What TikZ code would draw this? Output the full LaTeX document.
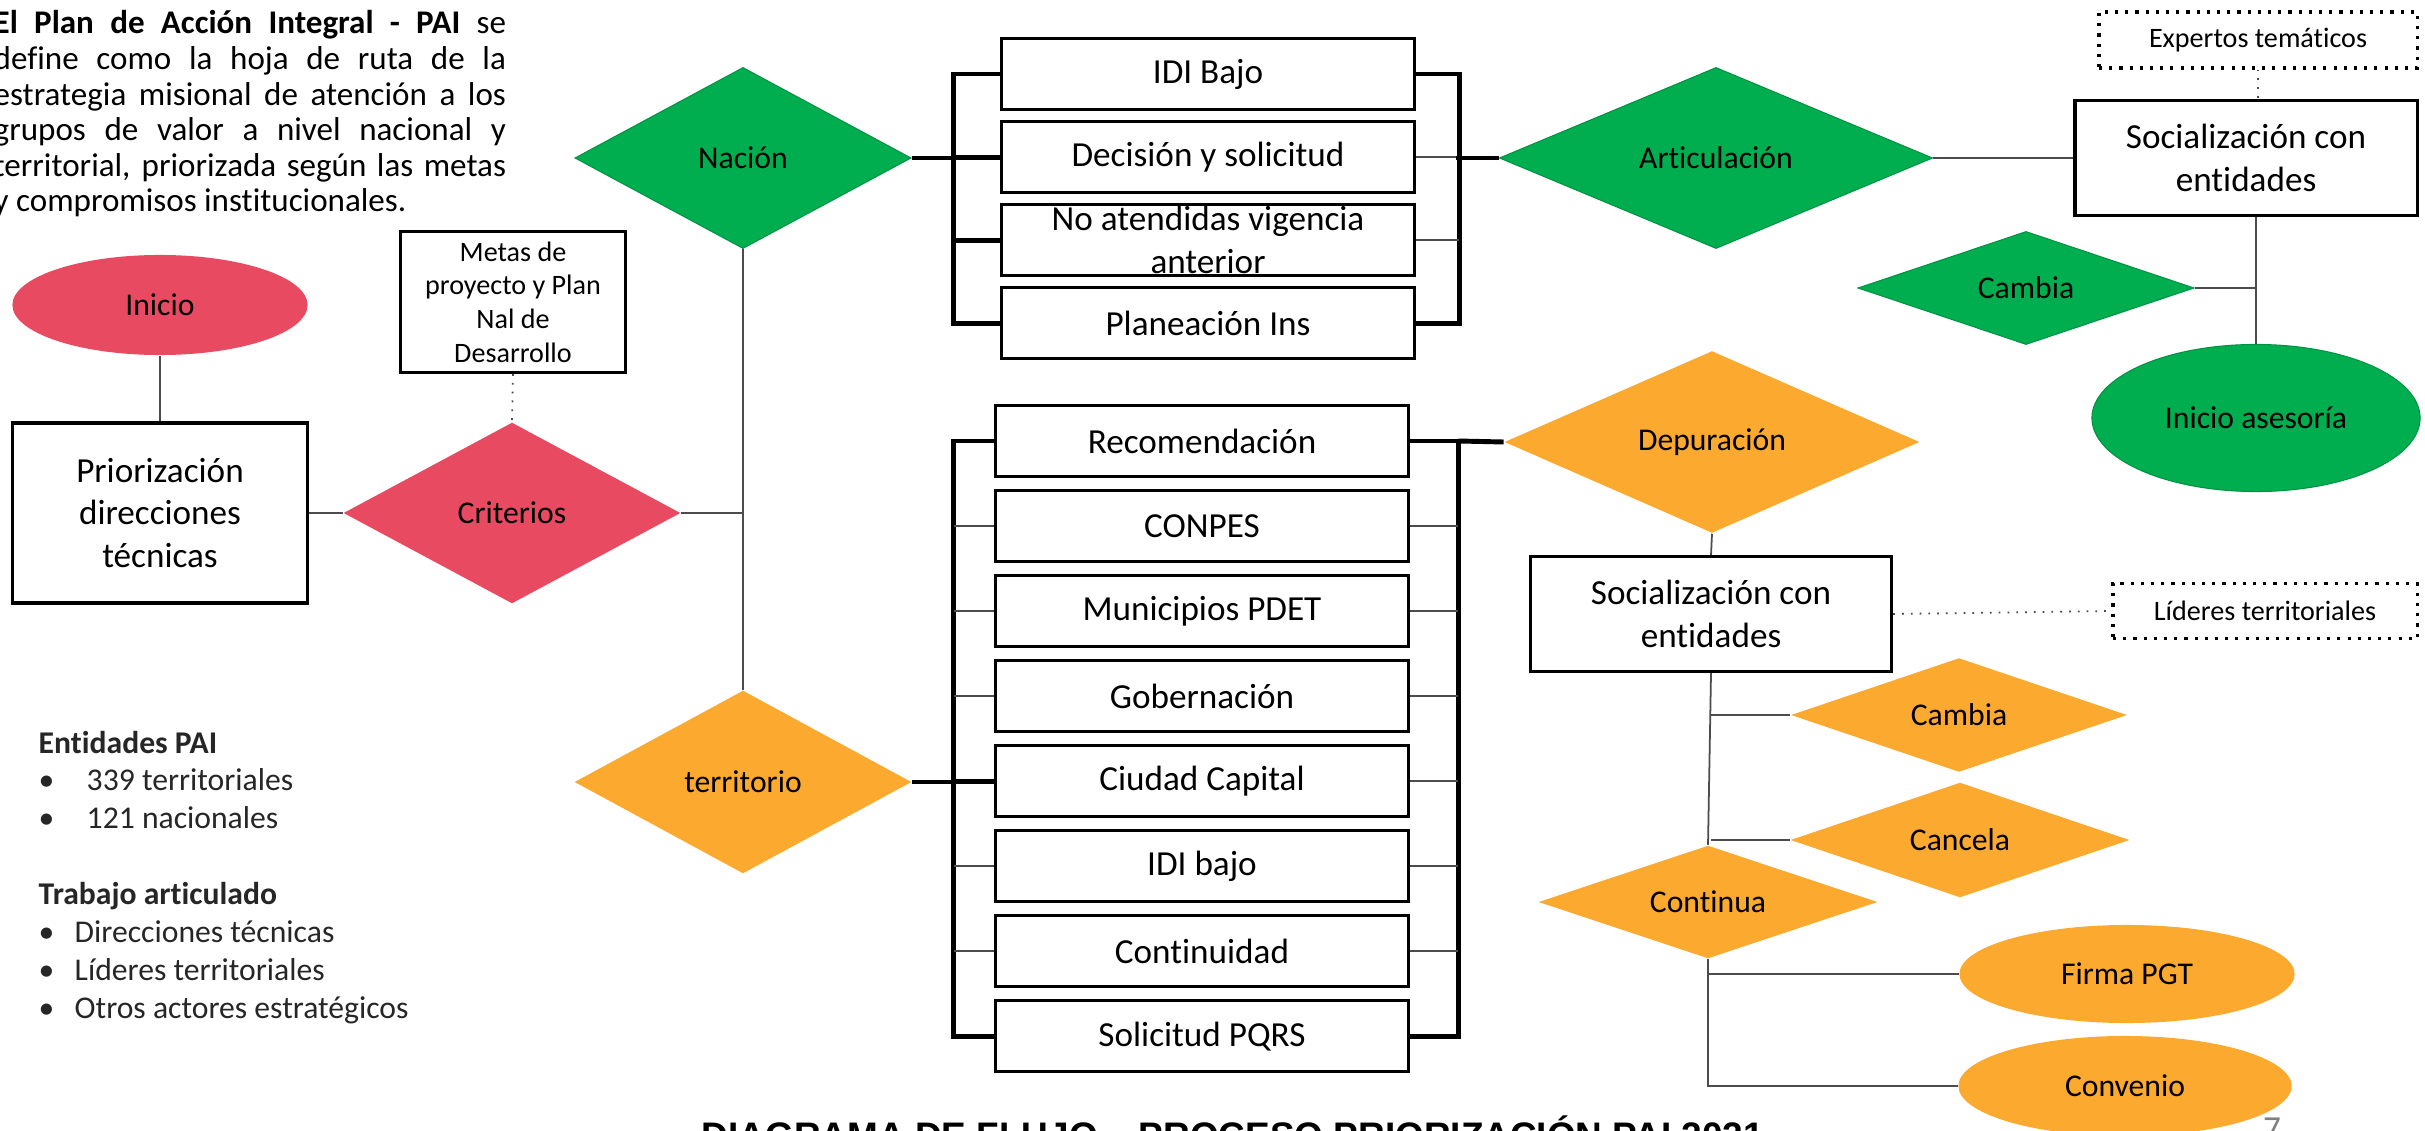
\documentclass[tikz,border=0pt]{standalone}
\usepackage{fontspec}
\setmainfont{Carlito}[Ligatures=NoCommon]
\newfontfamily\arialfont{Liberation Sans}
\usetikzlibrary{shapes}
\definecolor{verde}{HTML}{00AD4F}
\definecolor{rosa}{HTML}{E84A62}
\definecolor{naranja}{HTML}{FBA92F}
\tikzstyle{every picture}=[x=0.01cm, y=-0.01cm, node distance=0.85cm]
\tikzstyle{caja}=[draw, line width=0.9pt, fill=white, inner sep=0pt, align=center,%
	font=\fontsize{10}{12.2}\selectfont]
\tikzstyle{punteado}=[draw, dotted, line width=0.9pt, inner sep=0pt,%
	font=\fontsize{8}{9.6}\selectfont]
\tikzstyle{rombo}=[diamond, aspect=2, inner sep=0pt, font=\fontsize{9}{10.8}\selectfont]
\tikzstyle{elipse}=[ellipse, inner sep=0pt, font=\fontsize{9}{10.8}\selectfont]
\tikzstyle{linea}=[line width=0.5pt, black!70]
\tikzstyle{gruesa}=[line width=1.4pt]

\begin{document}
\begin{tikzpicture}
	\path[fill=white, use as bounding box] (0,0) rectangle (2425,1131);
	% textos de la izquierda
	\node[anchor=base west, inner sep=0pt] (texto) at (-7,34) {\parbox[t]{5.12cm}{%
		\fontsize{9.4}{10.1}\selectfont
		\textbf{El Plan de Acción Integral - PAI} se\linebreak
		define como la hoja de ruta de la\linebreak
		estrategia misional de atención a los\linebreak
		grupos de valor a nivel nacional y\linebreak
		territorial, priorizada según las metas\linebreak
		y compromisos institucionales.}};
	\node[anchor=base west, inner sep=0pt, text=black!85] (listas) at (38,753)
		{\fontsize{9}{10.8}\selectfont\begin{tabular}[t]{@{}l@{}}
		\textbf{Entidades PAI}\\
		\makebox[0.48cm][l]{\textbullet}339 territoriales\\
		\makebox[0.48cm][l]{\textbullet}121 nacionales\\
		\\
		\textbf{Trabajo articulado}\\
		\makebox[0.36cm][l]{\textbullet}Direcciones técnicas\\
		\makebox[0.36cm][l]{\textbullet}Líderes territoriales\\
		\makebox[0.36cm][l]{\textbullet}Otros actores estratégicos
		\end{tabular}};
	% inicio y criterios
	\node[elipse, fill=rosa, minimum width=2.95cm, minimum height=1cm] (inicio) at (160,305) {Inicio};
	\node[caja, minimum width=2.95cm, minimum height=1.8cm] (prior) at (160,513)
		{Priorización\\direcciones\\técnicas};
	\node[caja, font=\fontsize{8}{9.6}\selectfont, minimum width=2.25cm, minimum height=1.41cm]
		(metas) at (513,302) {Metas de\\proyecto y Plan\\Nal de\\Desarrollo};
	\node[rombo, fill=rosa, minimum width=3.37cm, minimum height=1.81cm] (criterios) at (512,513) {Criterios};
	\node[rombo, fill=verde, draw=verde!85!black, line width=0.3pt, minimum width=3.36cm,
		minimum height=1.81cm] (nacion) at (743,158) {Nación};
	\node[rombo, fill=naranja, minimum width=3.37cm, minimum height=1.83cm] (territorio) at (743,782) {territorio};
	% rama nacion
	\node[caja, minimum width=4.13cm, minimum height=0.71cm] (n1) at (1208,74) {IDI Bajo};
	\node[caja, minimum width=4.13cm, minimum height=0.71cm] (n2) [below of=n1, node distance=0.83cm]
		{Decisión y solicitud};
	\node[caja, minimum width=4.13cm, minimum height=0.71cm, inner ysep=-1.5pt] (n3)
		[below of=n2, node distance=0.83cm] {No atendidas vigencia\\anterior};
	\node[caja, minimum width=4.13cm, minimum height=0.71cm] (n4) [below of=n3, node distance=0.83cm]
		{Planeación Ins};
	\node[rombo, fill=verde, draw=verde!85!black, line width=0.3pt, minimum width=4.33cm,
		minimum height=1.81cm] (arti) at (1716,158) {Articulación};
	\node[caja, minimum width=3.42cm, minimum height=1.15cm] (soc1) at (2246,158)
		{Socialización con\\entidades};
	\node[punteado, minimum width=3.18cm, minimum height=0.56cm] (expertos) at (2258,40)
		{Expertos temáticos};
	\node[rombo, fill=verde, draw=verde!85!black, line width=0.3pt, minimum width=3.36cm,
		minimum height=1.13cm] (cambia1) at (2026,288) {Cambia};
	\node[elipse, fill=verde, draw=verde!85!black, line width=0.3pt, minimum width=3.28cm,
		minimum height=1.47cm] (asesoria) at (2256,418) {Inicio asesoría};
	% rama territorio
	\node[caja, minimum width=4.13cm, minimum height=0.71cm] (t1) at (1202,441) {Recomendación};
	\node[caja, minimum width=4.13cm, minimum height=0.71cm] (t2) [below of=t1] {CONPES};
	\node[caja, minimum width=4.13cm, minimum height=0.71cm] (t3) [below of=t2] {Municipios PDET};
	\node[caja, minimum width=4.13cm, minimum height=0.71cm] (t4) [below of=t3] {Gobernación};
	\node[caja, minimum width=4.13cm, minimum height=0.71cm] (t5) [below of=t4] {Ciudad Capital};
	\node[caja, minimum width=4.13cm, minimum height=0.71cm] (t6) [below of=t5] {IDI bajo};
	\node[caja, minimum width=4.13cm, minimum height=0.71cm] (t7) [below of=t6] {Continuidad};
	\node[caja, minimum width=4.13cm, minimum height=0.71cm] (t8) [below of=t7] {Solicitud PQRS};
	\node[rombo, fill=naranja, minimum width=4.15cm, minimum height=1.82cm] (depuracion) at (1712,442)
		{Depuración};
	\node[caja, minimum width=3.61cm, minimum height=1.15cm] (soc2) at (1711,614)
		{Socialización con\\entidades};
	\node[punteado, minimum width=3.04cm, minimum height=0.55cm] (lideres) at (2265,611)
		{Líderes territoriales};
	\node[rombo, fill=naranja, minimum width=3.36cm, minimum height=1.14cm] (cambia2) at (1959,715) {Cambia};
	\node[rombo, fill=naranja, minimum width=3.39cm, minimum height=1.15cm] (cancela) at (1960,840) {Cancela};
	\node[rombo, fill=naranja, minimum width=3.39cm, minimum height=1.13cm] (continua) at (1708,902) {Continua};
	\node[elipse, fill=naranja, minimum width=3.35cm, minimum height=0.98cm] (firma) at (2127,974) {Firma PGT};
	\node[elipse, fill=naranja, minimum width=3.33cm, minimum height=1cm] (convenio) at (2125,1086) {Convenio};
	% titulo y pagina
	\node[anchor=base, inner sep=0pt, font={\arialfont\bfseries\fontsize{10.5}{12}\selectfont}] (titulo)
		at (1233,1148) {DIAGRAMA DE FLUJO – PROCESO PRIORIZACIÓN PAI 2021};
	\node[anchor=base, inner sep=0pt, text=black!50, font=\fontsize{10}{12}\selectfont] (pagina)
		at (2272,1140) {7};
	% conectores
	\draw[linea] (inicio.south) -- (prior.north);
	\draw[linea] (prior.east) -- (criterios.west);
	\draw[linea, dotted] (metas.south) -- (criterios.north);
	\draw[linea] (criterios.east) -- (criterios.east -| nacion.south);
	\draw[linea] (nacion.south) -- (territorio.north);
	\draw[gruesa] (nacion.east) -- ++(45,0);
	\draw[gruesa] (n1.west) -- ++(-46,0) |- (n4.west);
	\draw[gruesa] (n2.west) -- ++(-46,0) (n3.west) -- ++(-46,0);
	\draw[gruesa] (n1.east) -- ++(43,0) |- (n4.east);
	\draw[linea] (n2.east) -- ++(43,0) (n3.east) -- ++(43,0);
	\draw[gruesa] (arti.west) -- ++(-43,0);
	\draw[linea] (arti.east) -- (soc1.west);
	\draw[linea, dotted] (expertos.south) -- (expertos.south |- soc1.north);
	\draw[linea] (asesoria.north) -- (asesoria.north |- soc1.south);
	\draw[linea] (cambia1.east) -- (cambia1.east -| asesoria.north);
	\draw[gruesa] (territorio.east) -- ++(43,0);
	\draw[gruesa] (t1.west) -- ++(-40,0) |- (t8.west);
	\draw[gruesa] (t1.east) -- ++(48,0) |- (t8.east);
	\draw[gruesa] (t5.west) -- ++(-40,0);
	\foreach \n in {2,3,4,6,7} \draw[linea] (t\n.west) -- ++(-40,0);
	\foreach \n in {2,...,7} \draw[linea] (t\n.east) -- ++(48,0);
	\draw[gruesa] (t1.east) ++(48,0) -- (depuracion.west);
	\draw[linea] (depuracion.south) -- (soc2.north);
	\draw[linea, dotted] (soc2.east) -- (lideres.west);
	\draw[linea] (soc2.south) -- (continua.north);
	\draw[linea] (cambia2.west) -- (cambia2.west -| soc2.south);
	\draw[linea] (cancela.west) -- (cancela.west -| soc2.south);
	\draw[linea] (continua.south) |- (convenio.west);
	\draw[linea] (continua.south |- firma.west) -- (firma.west);
\end{tikzpicture}
\end{document}
